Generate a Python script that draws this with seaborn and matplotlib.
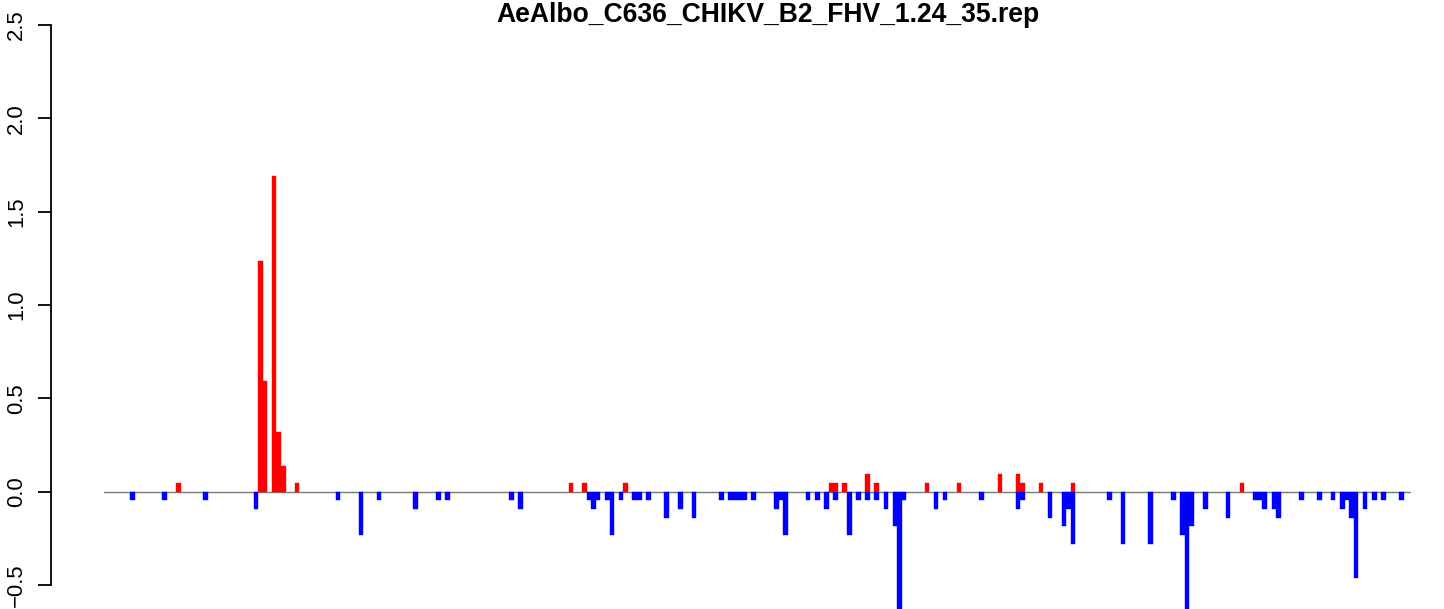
import numpy as np
import pandas as pd
import matplotlib
matplotlib.use("Agg")
import matplotlib.pyplot as plt
import seaborn as sns

# 데이터 (slot index -> value)
TITLE = "AeAlbo_C636_CHIKV_B2_FHV_1.24_35.rep"
N_SLOTS = 279

pos_slots = [10, 28, 29, 31, 32, 33, 36, 96, 99, 108, 153, 154, 156, 161, 163,
             174, 181, 190, 194, 195, 199, 206, 243]
pos_vals = [0.046, 1.233, 0.595, 1.69, 0.318, 0.136, 0.046, 0.046, 0.046, 0.046,
            0.046, 0.046, 0.046, 0.093, 0.046, 0.046, 0.046, 0.093, 0.093, 0.046,
            0.046, 0.046, 0.046]

neg_slots = [0, 7, 16, 27, 45, 50, 54, 62, 67, 69, 83, 85,
             100, 101, 102, 104, 105, 107, 110, 111, 113, 117, 120, 123,
             129, 131, 132, 133, 134, 136, 141, 142, 143, 148, 150, 152, 154,
             157, 159, 161, 163, 165, 167, 168, 169, 176, 178, 186,
             194, 195, 201, 204, 205, 206, 214, 217, 223, 228, 230, 231, 232,
             235, 240, 246, 247, 248, 250, 251, 256, 260, 263, 265, 266, 267,
             268, 270, 272, 274, 278]
neg_vals = [-0.046, -0.046, -0.046, -0.093, -0.046, -0.232, -0.046, -0.093, -0.046, -0.046, -0.046, -0.093,
            -0.046, -0.093, -0.046, -0.046, -0.232, -0.046, -0.046, -0.046, -0.046, -0.139, -0.093, -0.139,
            -0.046, -0.046, -0.046, -0.046, -0.046, -0.046, -0.093, -0.046, -0.232, -0.046, -0.046, -0.093, -0.046,
            -0.232, -0.046, -0.046, -0.046, -0.093, -0.185, -0.65, -0.046, -0.093, -0.046, -0.046,
            -0.093, -0.046, -0.139, -0.185, -0.093, -0.278, -0.046, -0.278, -0.278, -0.046, -0.232, -0.65, -0.185,
            -0.093, -0.139, -0.046, -0.046, -0.093, -0.093, -0.139, -0.046, -0.046, -0.046, -0.093, -0.046, -0.139,
            -0.463, -0.093, -0.046, -0.046, -0.046]

yticks = [-0.5, 0.0, 0.5, 1.0, 1.5, 2.0, 2.5]

# 레이아웃
W, H = 1444, 609
AX_LEFT_PX = 50.7
SLOT0_PX = 130.3
SLOT_W_PX = 4.565
ZERO_PX = 491.7
PX_PER_UNIT = 186.7


def px_to_x(px):
    return (px - SLOT0_PX) / SLOT_W_PX - 0.5


sns.set_theme(style="ticks")
plt.rcParams['font.family'] = ['Liberation Sans', 'DejaVu Sans']

fig = plt.figure(figsize=(W / 100, H / 100), dpi=100)
ax = fig.add_axes([AX_LEFT_PX / W, 0, 1 - AX_LEFT_PX / W, 1])

order = list(range(N_SLOTS))
pos_df = pd.DataFrame({"slot": pos_slots, "val": pos_vals})
neg_df = pd.DataFrame({"slot": neg_slots, "val": neg_vals})

sns.barplot(data=pos_df, x="slot", y="val", order=order, color="#FF0000",
            saturation=1, width=1, errorbar=None, edgecolor="#FF0000",
            linewidth=0.3, ax=ax)
sns.barplot(data=neg_df, x="slot", y="val", order=order, color="#0000FF",
            saturation=1, width=1, errorbar=None, edgecolor="#0000FF",
            linewidth=0.3, ax=ax)

# 기준선
ax.plot([px_to_x(104), px_to_x(1410)], [0, 0], color="#7a7a7a", lw=1.0, zorder=0.5)

ax.set_xlim(px_to_x(AX_LEFT_PX), px_to_x(W))
ax.set_ylim(-(H - ZERO_PX) / PX_PER_UNIT, ZERO_PX / PX_PER_UNIT)

ax.set_xticks([])
ax.set_xlabel("")
ax.set_ylabel("")
for side in ["top", "right", "bottom"]:
    ax.spines[side].set_visible(False)
ax.spines["left"].set_bounds(-0.5, 2.5)
ax.spines["left"].set_linewidth(1.3)
ax.spines["left"].set_color("black")
ax.set_yticks(yticks)
ax.set_yticklabels([f"{t:.1f}".replace("-", "\u2212") for t in yticks])
ax.tick_params(axis="y", length=9.4, width=1.3, pad=7.5, labelsize=15.9,
               colors="black")
plt.setp(ax.get_yticklabels(), rotation=90, va="center")
ax.set_facecolor("white")
fig.patch.set_facecolor("white")

fig.text(768 / W, 1 - 15 / H, TITLE, ha="center", va="center",
         fontsize=19.1, fontweight="bold", color="black")

fig.savefig("out.png", dpi=100)
